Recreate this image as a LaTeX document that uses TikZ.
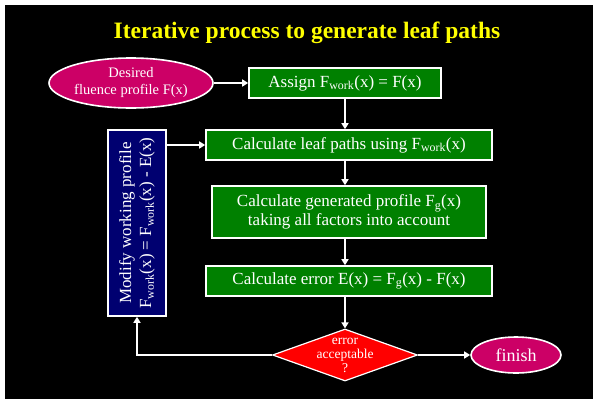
\documentclass[tikz,border=0pt]{standalone}
\usepackage{fontspec}
\setmainfont{Liberation Serif}
\usetikzlibrary{shapes.geometric,arrows.meta}

\definecolor{boxgreen}{RGB}{0,128,0}
\definecolor{boxnavy}{RGB}{0,0,112}
\definecolor{ovalpink}{RGB}{204,0,102}
\definecolor{titleyellow}{RGB}{255,255,0}

\tikzset{
  stepbox/.style={draw=white, line width=1.6pt, fill=boxgreen, text=white, inner sep=0pt, align=center, font=\fontsize{17}{19}\selectfont},
  oval/.style={ellipse, draw=white, line width=1.6pt, fill=ovalpink, text=white, inner sep=0pt, align=center},
  decide/.style={diamond, draw=white, line width=1.2pt, fill=red, inner sep=0pt},
  decidetext/.style={text=white, align=center, inner sep=0pt, font=\fontsize{13.5}{14}\selectfont},
  flow/.style={white, line width=1.6pt, -{Triangle[width=7pt,length=6pt]}},
}

\begin{document}
\begin{tikzpicture}[x=1pt,y=-1pt]
\fill[white] (0,0) rectangle (593,399);
\fill[black] (5,5) rectangle (593,399); % the slide

\node[text=titleyellow, font=\bfseries\fontsize{23.5}{26}\selectfont] (Title) at (307,33) {Iterative process to generate leaf paths};

\node[oval, minimum width=164pt, minimum height=50pt, font=\fontsize{14.5}{17}\selectfont] (Desired) at (131,83) {Desired\\fluence profile F(x)};
\node[stepbox, minimum width=192pt, minimum height=30pt] (Assign) at (345,83) {Assign F\textsubscript{work}(x) = F(x)};
\node[stepbox, minimum width=286pt, minimum height=30pt] (Leaf) at (349,145) {Calculate leaf paths using F\textsubscript{work}(x)};
\node[stepbox, minimum width=274pt, minimum height=52pt] (Generate) at (349,212) {Calculate generated profile F\textsubscript{g}(x)\\taking all factors into account};
\node[stepbox, minimum width=286pt, minimum height=30pt] (Error) at (349,281) {Calculate error E(x) = F\textsubscript{g}(x) - F(x)};
\node[stepbox, fill=boxnavy, rotate=90, minimum width=186pt, minimum height=58pt, font=\fontsize{17}{20}\selectfont] (Modify) at (137,223) {Modify working profile\\F\textsubscript{work}(x) = F\textsubscript{work}(x) - E(x)};
\node[decide, minimum width=145pt, minimum height=52pt, label={[decidetext]center:error\\acceptable\\?}] (Accept) at (345,355) {};
\node[oval, minimum width=90pt, minimum height=36pt, font=\fontsize{18}{20}\selectfont] (Finish) at (516,355) {finish};

\draw[flow] (Desired.east) -- (Assign.west);
\draw[flow] (Assign.south) -- (Assign.south |- Leaf.north);
\draw[flow] (Modify.south |- Leaf.west) -- (Leaf.west);
\draw[flow] (Assign.south |- Leaf.south) -- (Assign.south |- Generate.north);
\draw[flow] (Assign.south |- Generate.south) -- (Assign.south |- Error.north);
\draw[flow] (Assign.south |- Error.south) -- (Accept.north);
\draw[flow] (Accept.east) -- (Finish.west);
\draw[flow] (Accept.west) -| (Modify.west);
\end{tikzpicture}
\end{document}
